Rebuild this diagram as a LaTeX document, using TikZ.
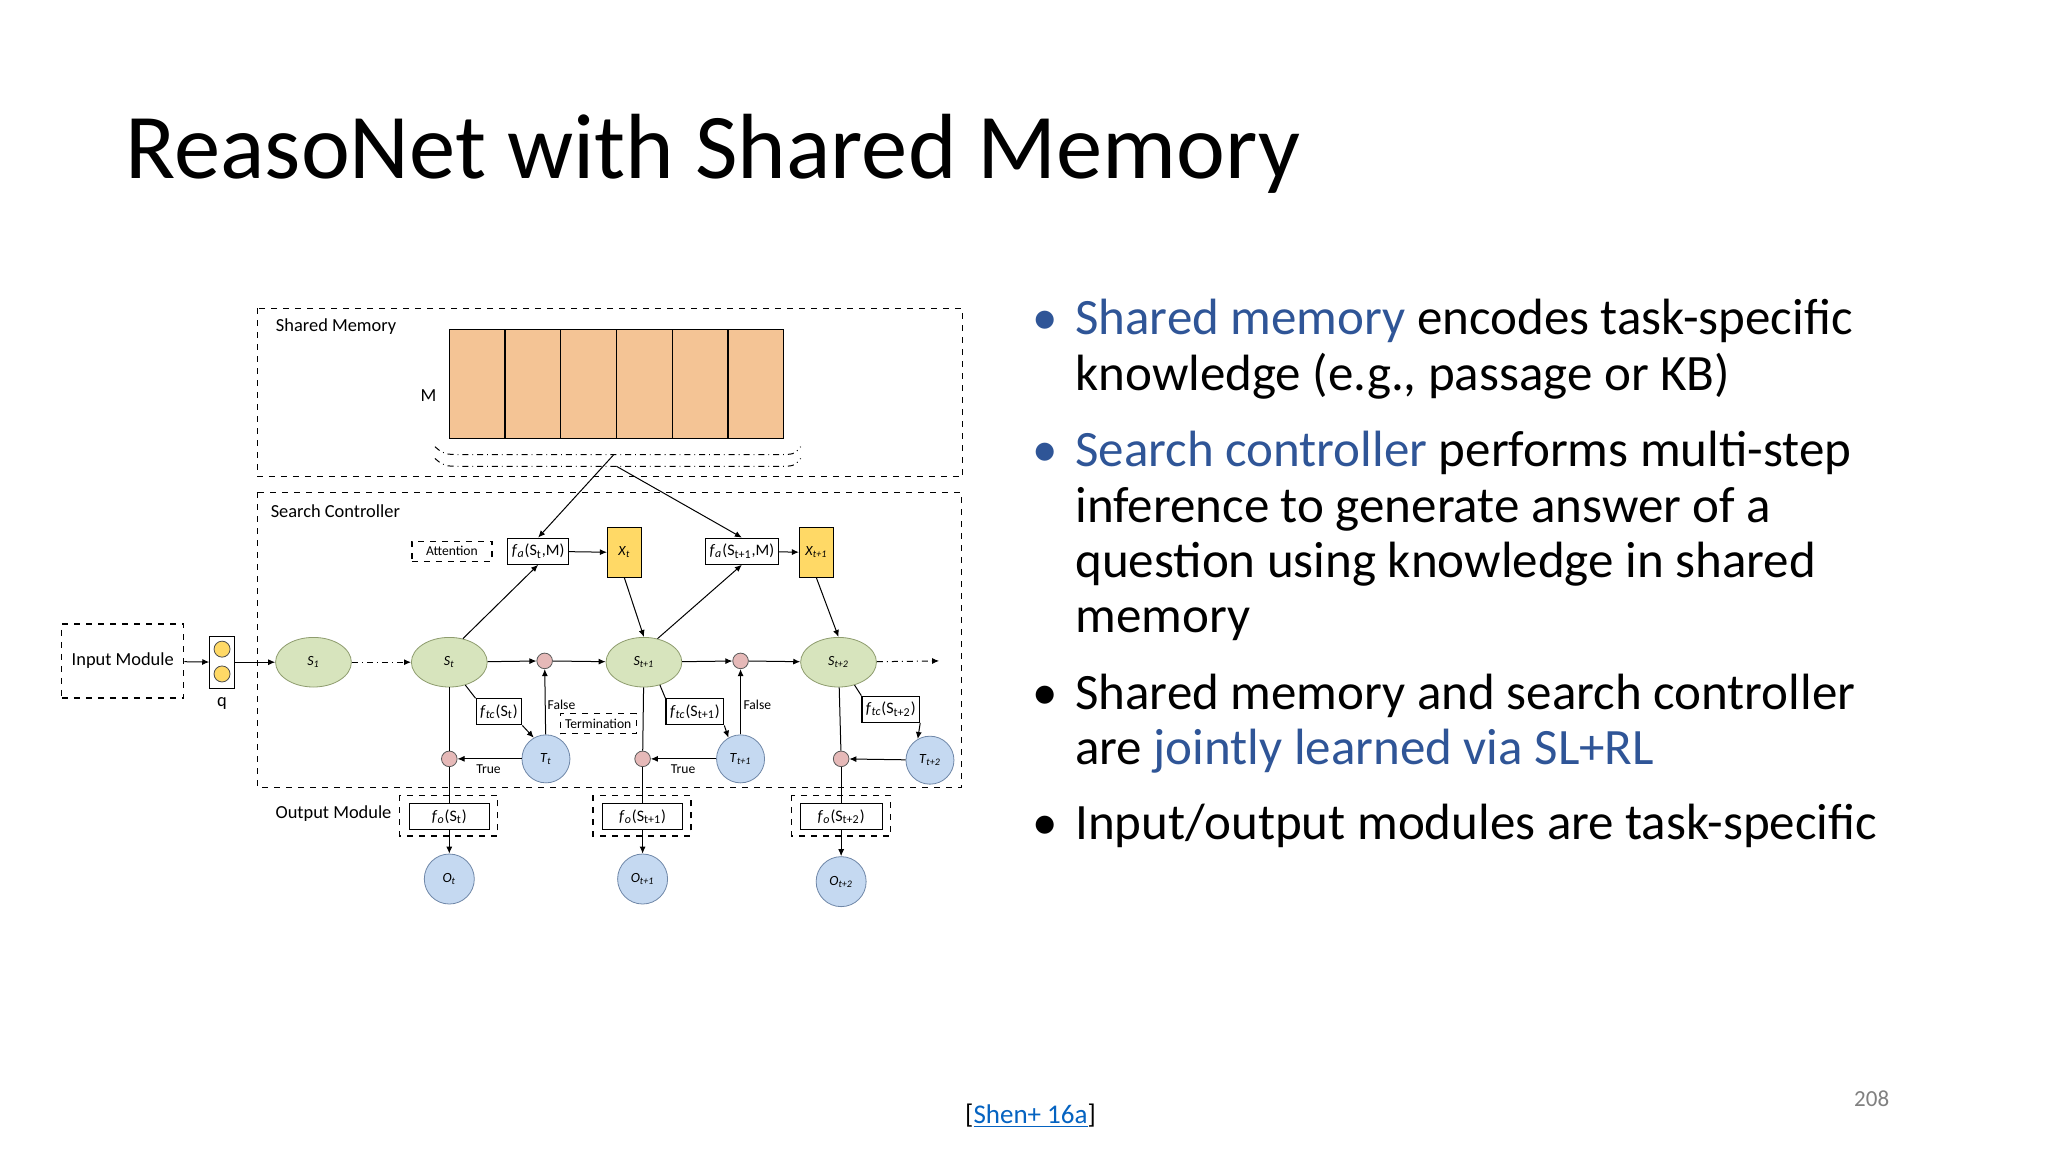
\documentclass[tikz,border=0pt]{standalone}
\usepackage{fontspec}
\setmainfont{Carlito}
\usetikzlibrary{shapes.geometric,arrows.meta}
\definecolor{tblue}{HTML}{2F5597}
\definecolor{mem}{HTML}{F4C495}
\definecolor{sgreen}{HTML}{D7E4BD}
\definecolor{sgreenb}{HTML}{8E9C6E}
\definecolor{cblue}{HTML}{C5D9F1}
\definecolor{cblueb}{HTML}{6F87A8}
\definecolor{pink}{HTML}{E6B9B8}
\definecolor{xyel}{HTML}{FFD966}
\newcommand{\iv}[2]{\textit{#1}\textsubscript{\textit{#2}}}
\begin{document}
\begin{tikzpicture}[x=0.6531pt,y=-0.6531pt,
  dbox/.style={draw, dashed, line width=0.6pt},
  lab/.style={font=\fontsize{9.2}{10}\selectfont, inner sep=0pt},
  sm/.style={font=\fontsize{6.8}{8}\selectfont},
  st/.style={ellipse, draw=sgreenb, fill=sgreen, minimum width=37.9pt, minimum height=24.8pt, inner sep=0pt, font=\fontsize{7}{8}\selectfont},
  tc/.style={circle, draw=cblueb, fill=cblue, minimum size=24pt, inner sep=0pt, font=\fontsize{7}{8}\selectfont},
  pc/.style={circle, draw=gray!70!black, fill=pink, minimum size=7.8pt, inner sep=0pt},
  fb/.style={draw, line width=0.6pt, fill=white, minimum height=13pt, inner sep=2pt, font=\fontsize{8}{9}\selectfont},
  xb/.style={draw, fill=xyel, minimum width=17pt, minimum height=24.8pt, inner sep=0pt, font=\fontsize{7}{8}\selectfont},
  ar/.style={-{Latex[length=3.5pt,width=3pt]}, line width=0.5pt},
  ln/.style={line width=0.5pt},
  dd/.style={dash dot, line width=0.5pt}]
\useasboundingbox (0,0) rectangle (1568,882);
\fill[white] (0,0) rectangle (1568,882);
% title
\node[anchor=base west, inner sep=0pt, font=\fontsize{46.3}{54}\selectfont] (title) at (96,137) {ReasoNet with Shared Memory};
% bullets
\tikzset{bt/.style={anchor=base west, inner sep=0pt, font=\fontsize{25.5}{30}\selectfont}, bd/.style={anchor=base, inner sep=0pt, font=\fontsize{25.5}{30}\selectfont}}
\node[bd, text=tblue] (b1) at (800,256) {•};
\node[bt] (l1) at (823,256) {\textcolor{tblue}{Shared memory} encodes task-specific};
\node[bt] (l2) at (823,299) {knowledge (e.g., passage or KB)};
\node[bd, text=tblue] (b2) at (800,357) {•};
\node[bt] (l3) at (823,357) {\textcolor{tblue}{Search controller} performs multi-step};
\node[bt] (l4) at (823,400) {inference to generate answer of a};
\node[bt] (l5) at (823,442) {question using knowledge in shared};
\node[bt] (l6) at (823,484) {memory};
\node[bd] (b3) at (800,543) {•};
\node[bt] (l7) at (823,543) {Shared memory and search controller};
\node[bt] (l8) at (823,585) {are \textcolor{tblue}{jointly learned via SL+RL}};
\node[bd] (b4) at (800,643) {•};
\node[bt] (l9) at (823,643) {Input/output modules are task-specific};
\node[anchor=base, inner sep=0pt, font=\fontsize{13.5}{15}\selectfont] (ref) at (789,860) {[\textcolor[HTML]{0563C1}{\underline{Shen+ 16a}}]};
\node[anchor=base, inner sep=0pt, text=gray, font=\fontsize{11.5}{13}\selectfont] (pg) at (1433,847) {208};
% shared memory
\draw[dbox] (197,236) rectangle (737,365);
\node[lab, anchor=west] (smt) at (211,250) {Shared Memory};
\foreach \i in {0,...,5} \draw[fill=mem, line width=0.6pt] ({344+\i*42.67},252) rectangle ({344+(\i+1)*42.67},336);
\node[lab] (M) at (328,303) {M};
\draw[dd] (333,342) .. controls (340,348) .. (355,348) -- (595,348) .. controls (608,348) .. (613,342);
\draw[dd] (333,351) .. controls (340,357) .. (355,357) -- (595,357) .. controls (608,357) .. (613,351);
\coordinate (m1) at (470,348);
\coordinate (m2) at (472,357);
% search controller
\draw[dbox] (197,377) rectangle (736,603);
\node[lab, anchor=west] (sct) at (207,391) {Search Controller};
% input
\node[dbox, minimum width=61pt, minimum height=37pt, lab] (in) at (94,506) {Input Module};
\node[draw, minimum width=12.4pt, minimum height=26pt, inner sep=0pt] (q) at (170,507) {};
\node[circle, draw=gray!60!black, fill=xyel, minimum size=8pt, inner sep=0pt] (q1) at (170,497) {};
\node[circle, draw=gray!60!black, fill=xyel, minimum size=8pt, inner sep=0pt] (q2) at (170,516) {};
\node[lab] (ql) at (170,539) {q};
\draw[ar] (in) -- (q);
% states
\node[st] (s1) at (240,507) {\iv{S}{1}};
\node[st] (s0) at (344,507) {\iv{S}{t}};
\node[st] (s2) at (493,507) {\iv{S}{t+1}};
\node[st] (s3) at (642,507) {\iv{S}{t+2}};
\coordinate (end) at (719,506);
\draw[ar] (q) -- (s1);
\draw[ar, dd] (s1) -- (s0);
\draw[ar, dd] (s3) -- (end);
\node[pc] (p1) at (417,506) {};
\node[pc] (p2) at (567,506) {};
\draw[ar] (s0) -- (p1); \draw[ar] (p1) -- (s2);
\draw[ar] (s2) -- (p2); \draw[ar] (p2) -- (s3);
% attention
\node[dbox, sm, minimum width=40pt, minimum height=10pt, inner sep=1pt] (att) at (346,422) {Attention};
\node[fb] (fa1) at (412,422) {\iv{f}{a}(S\textsubscript{t},M)};
\node[xb] (x1) at (478,423) {\iv{X}{t}};
\node[fb] (fa2) at (568,422) {\iv{f}{a}(S\textsubscript{t+1},M)};
\node[xb] (x2) at (625,423) {\iv{X}{t+1}};
\draw[ar] (fa1) -- (x1); \draw[ar] (fa2) -- (x2);
\draw[ar] (m1) -- (fa1.north);
\draw[ar] (m2) -- (fa2.north);
\draw[ar] (s0.60) -- (fa1.south);
\draw[ar] (s2.60) -- (fa2.south);
\draw[ar] (x1.south) -- (s2.north);
\draw[ar] (x2.south) -- (s3.north);
% termination
\node[tc] (t0) at (418,581) {\iv{T}{t}};
\node[tc] (t2) at (567,581) {\iv{T}{t+1}};
\node[tc] (t3) at (712,582) {\iv{T}{t+2}};
\node[fb] (g0) at (382,545) {\iv{f}{tc}(S\textsubscript{t})};
\node[fb] (g2) at (532,545) {\iv{f}{tc}(S\textsubscript{t+1})};
\node[fb] (g3) at (682,543) {\iv{f}{tc}(S\textsubscript{t+2})};
\draw[ln] (s0.-55) -- (g0.north west);
\draw[ln] (s2.-55) -- (g2.north west);
\draw[ln] (s3.-55) -- (g3.north west);
\draw[ar] (g0.south east) -- (t0.120);
\draw[ar] (g2.south east) -- (t2.120);
\draw[ar] (g3.south east) -- (t3.120);
\draw[ar] (t0) -- (p1);
\draw[ar] (t2) -- (p2);
\node[sm, anchor=west, inner sep=0pt] (f1) at (419,540) {False};
\node[sm, anchor=west, inner sep=0pt] (f2) at (569,540) {False};
\node[dbox, sm, minimum width=38pt, minimum height=10pt, inner sep=1pt] (term) at (458,554) {Termination};
\node[pc] (r0) at (344,581) {};
\node[pc] (r2) at (492,581) {};
\node[pc] (r3) at (644,581) {};
\draw[ar] (t0) -- (r0); \draw[ar] (t2) -- (r2); \draw[ar] (t3) -- (r3);
\node[sm, inner sep=0pt] (tr1) at (374,589) {True};
\node[sm, inner sep=0pt] (tr2) at (523,589) {True};
\draw[ln] (s0) -- (r0); \draw[ln] (s2) -- (r2); \draw[ln] (s3) -- (r3);
% output
\node[lab, anchor=east] (om) at (300,623) {Output Module};
\draw[dbox] (306,609) rectangle (381,640);
\draw[dbox] (454,609) rectangle (529,640);
\draw[dbox] (606,609) rectangle (682,640);
\node[fb, minimum width=40pt] (o0f) at (344,625) {\iv{f}{o}(S\textsubscript{t})};
\node[fb, minimum width=40pt] (o2f) at (492,625) {\iv{f}{o}(S\textsubscript{t+1})};
\node[fb, minimum width=41pt] (o3f) at (644,625) {\iv{f}{o}(S\textsubscript{t+2})};
\draw[ln] (r0) -- (o0f); \draw[ln] (r2) -- (o2f); \draw[ln] (r3) -- (o3f);
\node[tc, minimum size=25pt] (o0) at (344,673) {\iv{O}{t}};
\node[tc, minimum size=25pt] (o2) at (492,673) {\iv{O}{t+1}};
\node[tc, minimum size=25pt] (o3) at (644,675) {\iv{O}{t+2}};
\draw[ar] (o0f) -- (o0); \draw[ar] (o2f) -- (o2); \draw[ar] (o3f) -- (o3);
\end{tikzpicture}
\end{document}
